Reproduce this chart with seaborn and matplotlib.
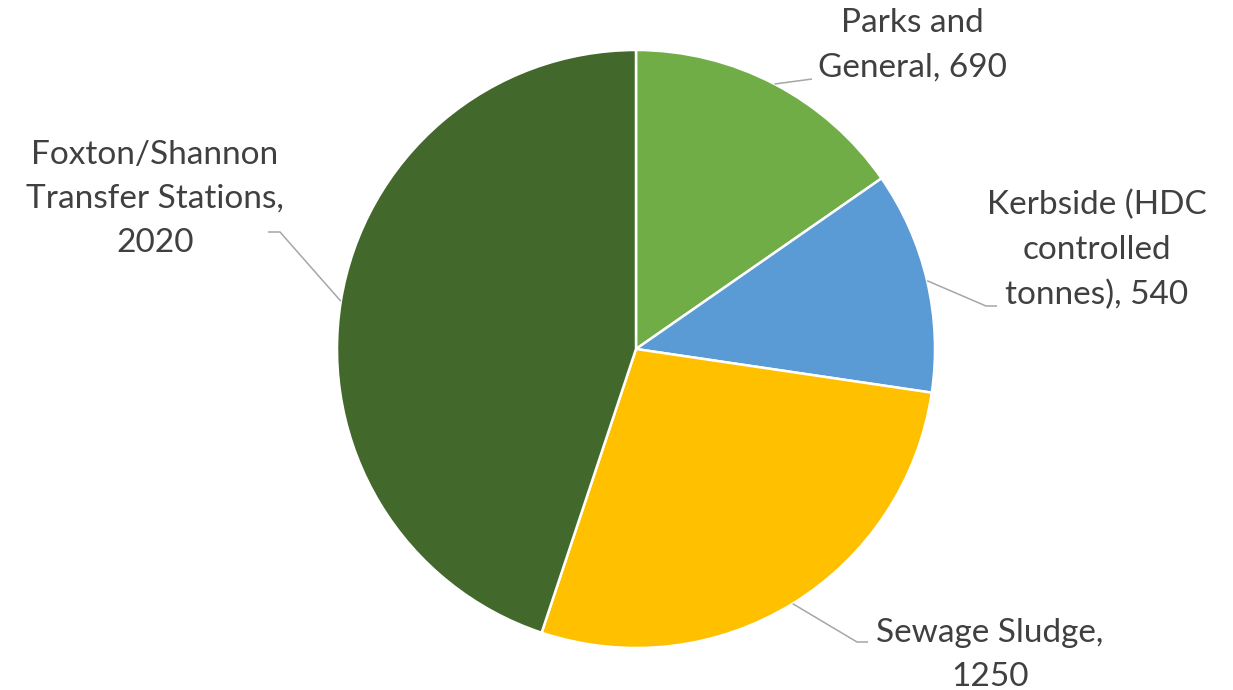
import numpy as np
import matplotlib
matplotlib.use("Agg")
import matplotlib.pyplot as plt
import seaborn as sns

# data
categories = ["Parks and\nGeneral, 690",
              "Kerbside (HDC\ncontrolled\ntonnes), 540",
              "Sewage Sludge,\n1250",
              "Foxton/Shannon\nTransfer Stations,\n2020"]
tonnes = [690, 540, 1250, 2020]
colors = ["#70AD47", "#5B9BD5", "#FFC000", "#43682B"]

sns.set_theme(style="white")
plt.rcParams['font.family'] = ['Lato', 'DejaVu Sans']

W, H = 1233, 690
fig = plt.figure(figsize=(W / 100, H / 100), dpi=100)
ax = fig.add_axes([0, 0, 1, 1])

cx, cy, r = 636, H - 349, 299
wedges, _ = ax.pie(tonnes, colors=colors, startangle=90, counterclock=False,
                   center=(cx, cy), radius=r, frame=True,
                   wedgeprops=dict(edgecolor="white", linewidth=1.8))
ax.set_xlim(0, W)
ax.set_ylim(0, H)
ax.set_aspect("equal")
ax.axis("off")

# label placement (pixel coords from top-left): text center, elbow, line end
label_pos = [(912, 45), (1097, 250), (990, 655), (155, 199)]
elbows = [(812, 79), (986, 306), (857, 642), (280, 232)]
ends = [(812, 79), (997, 306), (868, 642), (268, 232)]

for w, (tx, ty), (ex, ey), (fx, fy), lab in zip(wedges, label_pos, elbows, ends, categories):
    mid = np.deg2rad((w.theta1 + w.theta2) / 2)
    sx, sy = cx + r * np.cos(mid), cy + r * np.sin(mid)
    ax.plot([sx, ex, fx], [sy, H - ey, H - fy], color="#A6A6A6", lw=1.1,
            solid_capstyle="butt", zorder=3)
    ax.text(tx, H - ty, lab, ha="center", va="center", fontsize=24,
            color="#404040", linespacing=1.6, multialignment="center")

fig.savefig("out.png", dpi=100)
